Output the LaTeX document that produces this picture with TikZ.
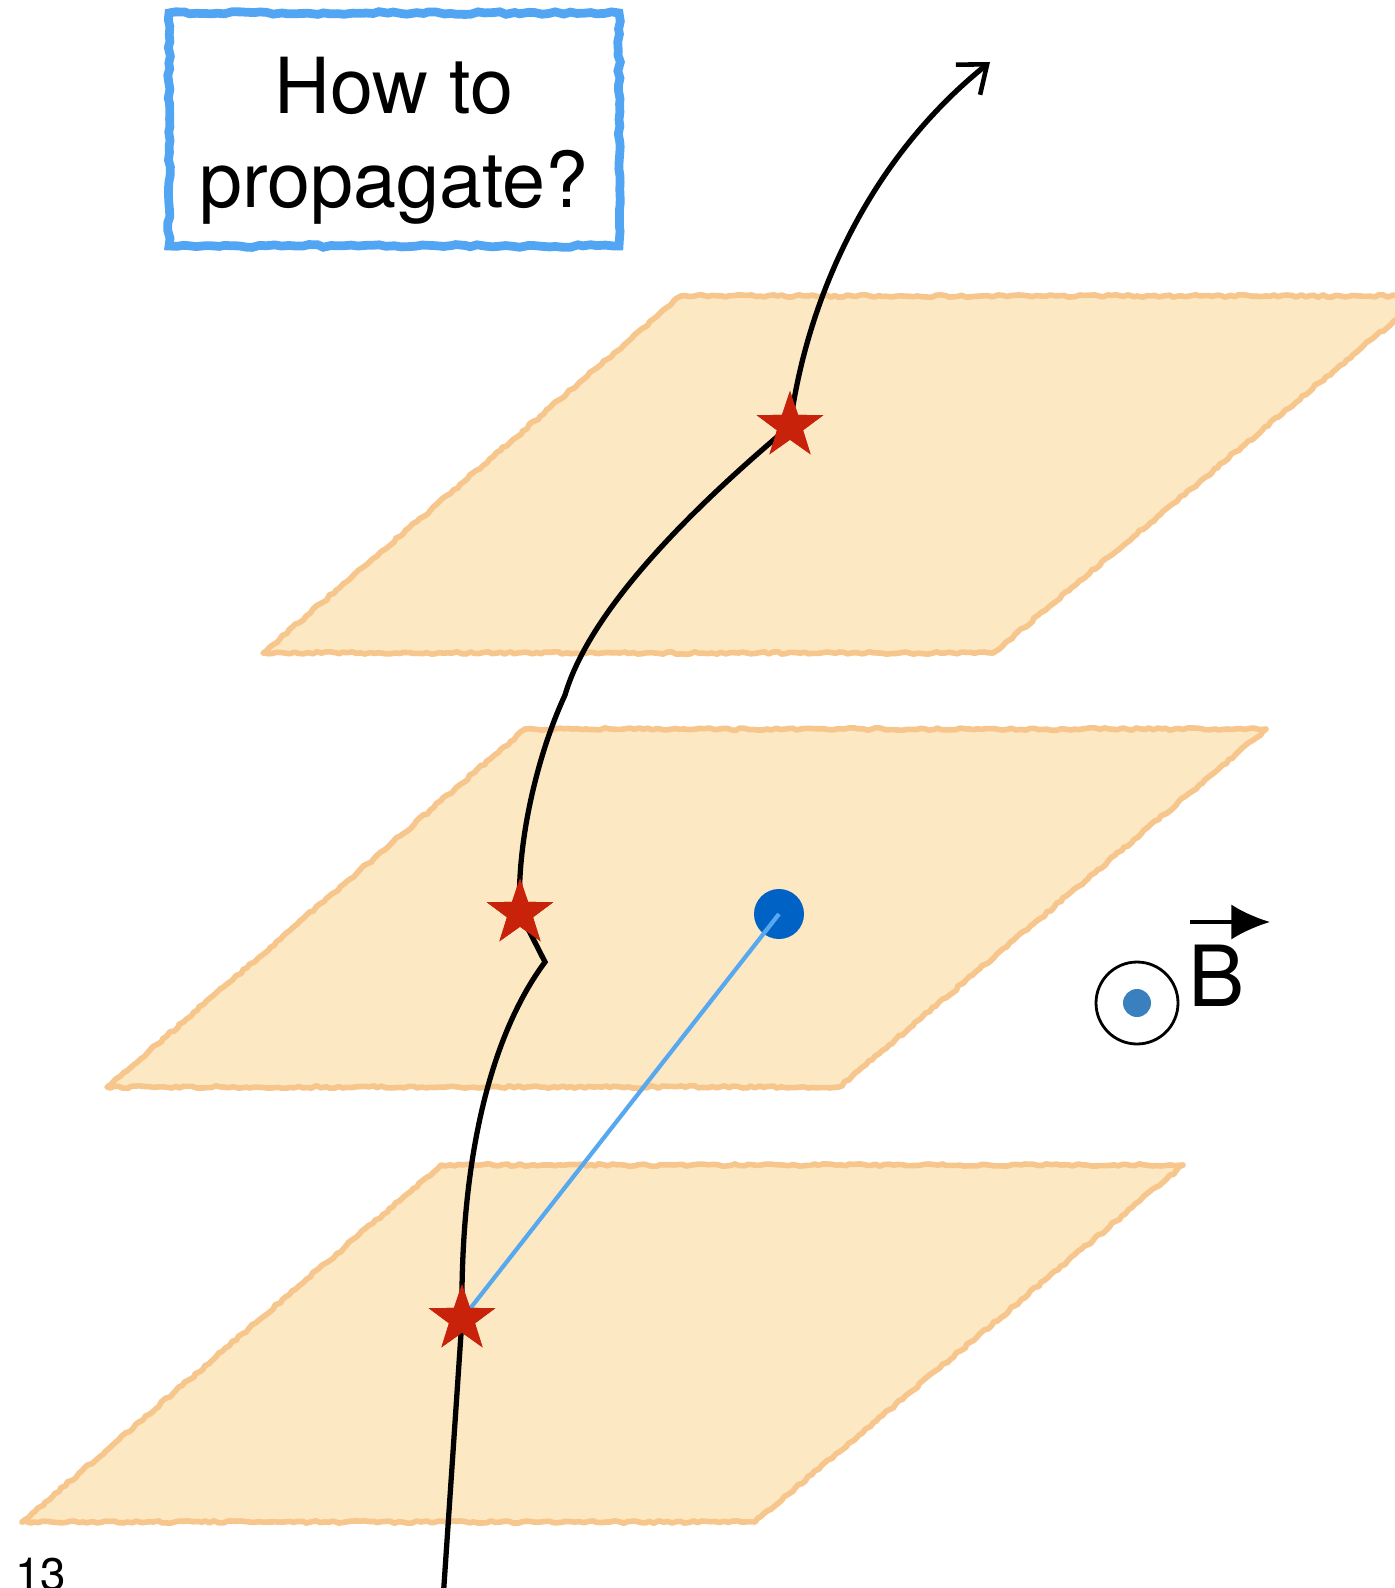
\documentclass[tikz,border=0pt]{standalone}
\usepackage{fontspec}
\setmainfont{TeX Gyre Heros}
\usetikzlibrary{shapes.geometric,arrows.meta,decorations.pathmorphing}
\definecolor{planefill}{RGB}{252,232,194}
\definecolor{planeedge}{RGB}{247,198,140}
\definecolor{boxblue}{RGB}{82,165,242}
\definecolor{starred}{RGB}{200,35,10}
\definecolor{dotblue}{RGB}{0,98,196}
\definecolor{lineblue}{RGB}{88,168,240}
\definecolor{steel}{RGB}{58,128,190}
\tikzset{
  plane/.style={fill=planefill, draw=planeedge, line width=3.2pt, line join=round,
    decorate, decoration={random steps, segment length=2.5pt, amplitude=0.7pt}},
  hitstar/.style={shape=star, star points=5, star point ratio=2.55, fill=starred,
    draw=none, minimum size=1.4cm, inner sep=0pt},
  track/.style={line width=3pt, line cap=round, line join=miter},
  bigtext/.style={font=\fontsize{44}{53}\selectfont, inner sep=0pt},
}
\begin{document}
\begin{tikzpicture}[x=0.02cm, y=-0.02cm]
\useasboundingbox (0,0) rectangle (1395,1588);
\clip (0,0) rectangle (1395,1588);
\pgfmathsetseed{7}
% planes
\path[plane] (681,296) -- (1424,296) -- (993,653) -- (263,653) -- cycle;
\path[plane] (525,729) -- (1266,729) -- (839,1087) -- (107,1087) -- cycle;
\path[plane] (441,1165) -- (1183,1165) -- (755,1522) -- (22,1522) -- cycle;
% title box
\draw[boxblue, line width=5pt, decorate, decoration={random steps, segment length=4pt, amplitude=0.8pt}]
  (169,13) rectangle (619,246);
\node[bigtext, anchor=base] (t1) at (394,114) {How to};
\node[bigtext, anchor=base] (t2) at (394,208) {propagate?};
% stars and points
\node[hitstar] (s1) at (462,1319) {};
\node[hitstar] (s2) at (520,913) {};
\node[hitstar] (s3) at (790,426) {};
\node[circle, fill=dotblue, inner sep=0pt, minimum size=1.0cm] (vtx) at (779,914) {};
\coordinate (start) at (443,1600);
\coordinate (k1) at (545,962);
\coordinate (k2) at (565,695);
\coordinate (tip) at (990,62);
% blue line
\draw[lineblue, line width=2.4pt] (s1.center) -- (vtx.center);
% track
\draw[track, -{Straight Barb[length=14pt, width=22pt, line width=2.6pt]}] (start) -- (s1.center)
  .. controls (460,1170) and (487,1040) .. (k1)
  -- (s2.center)
  .. controls (516,850) and (535,760) .. (k2)
  .. controls (590,610) and (690,510) .. (s3.center)
  .. controls (805,310) and (862,165) .. (tip);
% redraw stars on top of the track
\node[hitstar] at (s1.center) {};
\node[hitstar] at (s2.center) {};
\node[hitstar] at (s3.center) {};
% B field
\node[circle, draw=black, line width=1.6pt, minimum size=1.64cm, inner sep=0pt] (ring) at (1137,1003) {};
\node[circle, fill=steel, minimum size=0.56cm, inner sep=0pt] (bdot) at (ring.center) {};
\node[font=\fontsize{48}{56}\selectfont, inner sep=0pt, anchor=base west] (B) at (1188,1006) {B};
\coordinate (ba) at (1190,922);
\coordinate (bb) at (1270,922);
\draw[line width=1.8pt, -{Latex[length=22pt, width=20pt]}] (ba) -- (bb);
% page number
\node[font=\fontsize{26}{30}\selectfont, anchor=base west, inner sep=0pt] (pg) at (15,1590) {13};
\end{tikzpicture}
\end{document}
